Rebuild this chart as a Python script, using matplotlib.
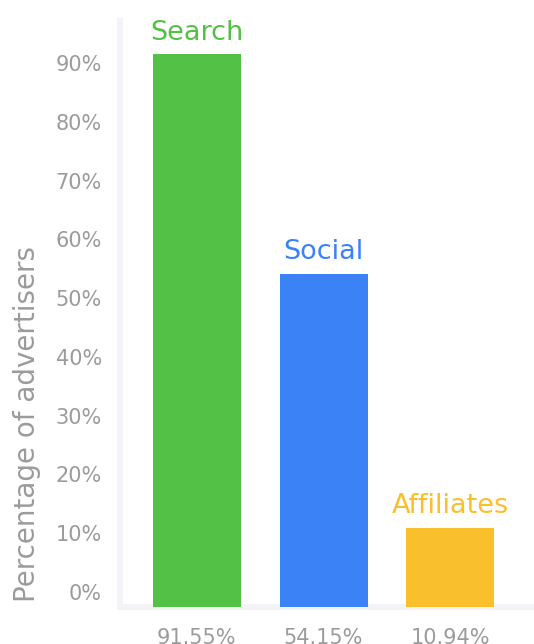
import matplotlib
matplotlib.use("Agg")
import matplotlib.pyplot as plt

plt.rcParams["font.family"] = ["DejaVu Sans"]

channels = ["Search", "Social", "Affiliates"]
shares = [91.55, 54.15, 10.94]
colors = ["#52C145", "#3B82F6", "#F9BF2D"]
y_ticks = [0, 10, 20, 30, 40, 50, 60, 70, 80, 90]

TEXT_GRAY = "#9B9B9B"
LINE_GRAY = "#F3F4F7"
FLOOR = -2.55  # axis floor sits slightly below the 0% tick

fig = plt.figure(figsize=(5.34, 6.44), dpi=100)
ax = fig.add_axes([0.2247, 0.0579, 0.7753, 0.9095])

x = list(range(len(channels)))
heights = [v - FLOOR for v in shares]
ax.bar(x, heights, bottom=FLOOR, width=0.694, color=colors, zorder=3)

# channel name above each bar, in the bar's colour
for xi, v, name, c in zip(x, shares, channels, colors):
    ax.annotate(name, xy=(xi, v), xytext=(0, 10.5), textcoords="offset points",
                ha="center", va="baseline", fontsize=19.5, color=c)

ax.set_xlim(-0.605, 2.66)
ax.set_ylim(FLOOR, 97.2)

ax.set_yticks(y_ticks)
ax.set_yticklabels([f"{t}%" for t in y_ticks])
ax.set_xticks(x)
ax.set_xticklabels([f"{v:.2f}%" for v in shares])
ax.tick_params(axis="y", length=0, pad=13, labelsize=15, labelcolor=TEXT_GRAY)
ax.tick_params(axis="x", length=0, pad=15, labelsize=15, labelcolor=TEXT_GRAY)

for side in ["top", "right"]:
    ax.spines[side].set_visible(False)
for side in ["left", "bottom"]:
    ax.spines[side].set_color(LINE_GRAY)
    ax.spines[side].set_linewidth(4.2)

ax.set_ylabel("Percentage of advertisers", fontsize=20, color=TEXT_GRAY)
ax.yaxis.set_label_coords(-0.191, 0.312)

fig.savefig("out.png", dpi=100, facecolor="white")
